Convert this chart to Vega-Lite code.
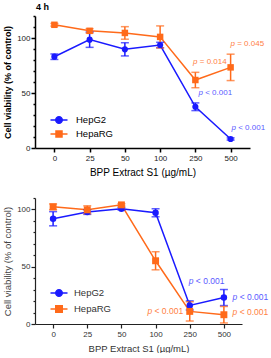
{
  "$schema": "https://vega.github.io/schema/vega-lite/v6.json",
  "background": "white",
  "padding": {"left": 2, "top": 3, "right": 0, "bottom": 0},
  "config": {
    "view": {"stroke": null},
    "font": "Liberation Sans",
    "axis": {"grid": false, "domainColor": "#000", "tickColor": "#000", "labelColor": "#222", "titleColor": "#000"}
  },
  "datasets": {
    "top": [
      {"cell": "HepG2", "dose": "0", "mean": 83, "err": 2.5, "ptext": ""},
      {"cell": "HepG2", "dose": "25", "mean": 98.5, "err": 7, "ptext": ""},
      {"cell": "HepG2", "dose": "50", "mean": 89.7, "err": 6, "ptext": ""},
      {"cell": "HepG2", "dose": "100", "mean": 93.6, "err": 2.5, "ptext": ""},
      {"cell": "HepG2", "dose": "250", "mean": 37.5, "err": 3.5, "ptext": "< 0.001"},
      {"cell": "HepG2", "dose": "500", "mean": 8.2, "err": 1, "ptext": "< 0.001"},
      {"cell": "HepaRG", "dose": "0", "mean": 112, "err": 1.2, "ptext": ""},
      {"cell": "HepaRG", "dose": "25", "mean": 106.5, "err": 2, "ptext": ""},
      {"cell": "HepaRG", "dose": "50", "mean": 104.6, "err": 5.7, "ptext": ""},
      {"cell": "HepaRG", "dose": "100", "mean": 101, "err": 10, "ptext": ""},
      {"cell": "HepaRG", "dose": "250", "mean": 61.8, "err": 7, "ptext": "= 0.014"},
      {"cell": "HepaRG", "dose": "500", "mean": 73.3, "err": 12, "ptext": "= 0.045"}
    ],
    "bottom": [
      {"cell": "HepG2", "dose": "0", "mean": 91.9, "err": 6.2, "ptext": ""},
      {"cell": "HepG2", "dose": "25", "mean": 97.7, "err": 2, "ptext": ""},
      {"cell": "HepG2", "dose": "50", "mean": 100.6, "err": 1, "ptext": ""},
      {"cell": "HepG2", "dose": "100", "mean": 97.1, "err": 3.5, "ptext": ""},
      {"cell": "HepG2", "dose": "250", "mean": 16.2, "err": 4, "ptext": "< 0.001"},
      {"cell": "HepG2", "dose": "500", "mean": 23.1, "err": 7, "ptext": "< 0.001"},
      {"cell": "HepaRG", "dose": "0", "mean": 102.3, "err": 2.5, "ptext": ""},
      {"cell": "HepaRG", "dose": "25", "mean": 99.7, "err": 3.5, "ptext": ""},
      {"cell": "HepaRG", "dose": "50", "mean": 104, "err": 1, "ptext": ""},
      {"cell": "HepaRG", "dose": "100", "mean": 55.2, "err": 7.9, "ptext": ""},
      {"cell": "HepaRG", "dose": "250", "mean": 11, "err": 8.4, "ptext": "< 0.001"},
      {"cell": "HepaRG", "dose": "500", "mean": 8.1, "err": 7.2, "ptext": "< 0.001"}
    ]
  },
  "spacing": 20,
  "resolve": {
    "scale": {"x": "independent", "y": "independent", "color": "independent"},
    "legend": {"color": "independent"}
  },
  "vconcat": [
    {
      "width": 215,
      "height": 132,
      "title": {"text": "4 h", "anchor": "start", "frame": "group", "fontSize": 9, "fontWeight": "bold", "offset": 3, "dx": 1, "color": "#000"},
      "data": {"name": "top"},
      "encoding": {
        "x": {
          "field": "dose", "type": "ordinal", "sort": ["0", "25", "50", "100", "250", "500"],
          "scale": {"type": "point", "padding": 0.55},
          "axis": {"title": "BPP Extract S1 (µg/mL)", "labelAngle": 0, "labelFontSize": 8, "labelPadding": 2, "tickSize": 4, "tickWidth": 1.5, "domainWidth": 1.5, "titleFontSize": 10, "titleFontWeight": "normal", "titlePadding": 5}
        },
        "y": {
          "field": "mean", "type": "quantitative",
          "scale": {"domain": [0, 120], "nice": false},
          "axis": {
            "title": "Cell viability (% of control)",
            "values": [0, 10, 20, 30, 40, 50, 60, 70, 80, 90, 100, 110, 120],
            "labelExpr": "datum.value % 50 === 0 ? datum.label : ''",
            "tickSize": {"condition": {"test": "datum.value % 50 === 0", "value": 4}, "value": 2},
            "labelFontSize": 8, "labelPadding": 1, "titleFontSize": 9, "titleFontWeight": "bold", "titlePadding": 4,
            "domainWidth": 1.5, "tickWidth": 1.5
          }
        },
        "color": {
          "field": "cell", "type": "nominal",
          "scale": {"domain": ["HepG2", "HepaRG"], "range": ["#1a1aff", "#ff6a1a"]},
          "legend": {
            "title": null, "orient": "none", "legendX": 18, "legendY": 98,
            "labelFontSize": 9.5, "labelColor": "#000", "labelOffset": 11, "symbolSize": 100, "rowPadding": 1,
            "encode": {"symbols": {"update": {
              "shape": {"signal": "datum.value === 'HepG2' ? 'M-1.7,0H1.7M0.65,0A0.65,0.65,0,1,1,-0.65,0A0.65,0.65,0,1,1,0.65,0Z' : 'M-1.7,0H1.7M-0.6,-0.6H0.6V0.6H-0.6Z'"},
              "stroke": {"signal": "datum.value === 'HepG2' ? '#1a1aff' : '#ff6a1a'"},
              "fill": {"signal": "datum.value === 'HepG2' ? '#1a1aff' : '#ff6a1a'"},
              "strokeWidth": {"value": 1.5},
              "opacity": {"value": 1}
            }}}
          }
        }
      },
      "layer": [
        {"mark": {"type": "line", "strokeWidth": 1.5}},
        {"mark": {"type": "errorbar", "ticks": {"size": 8}, "thickness": 1.5}, "encoding": {"yError": {"field": "err"}}},
        {"transform": [{"filter": "datum.cell === 'HepG2'"}], "mark": {"type": "point", "shape": "circle", "filled": true, "opacity": 1, "size": 38}},
        {"transform": [{"filter": "datum.cell === 'HepaRG'"}], "mark": {"type": "point", "shape": "square", "filled": true, "opacity": 1, "size": 42}},
        {"transform": [{"filter": "datum.cell === 'HepaRG' && datum.dose === '500'"}], "layer": [
          {"mark": {"type": "text", "text": "p", "fontStyle": "italic", "align": "right", "baseline": "middle", "fontSize": 8, "dx": 4.4, "dy": -23.4, "opacity": 0.85}},
          {"mark": {"type": "text", "align": "left", "baseline": "middle", "fontSize": 8, "dx": 6.6, "dy": -23.4, "opacity": 0.85}, "encoding": {"text": {"field": "ptext"}}}
        ]},
        {"transform": [{"filter": "datum.cell === 'HepaRG' && datum.dose === '250'"}], "layer": [
          {"mark": {"type": "text", "text": "p", "fontStyle": "italic", "align": "right", "baseline": "middle", "fontSize": 8, "dx": 2.2, "dy": -18, "opacity": 0.85}},
          {"mark": {"type": "text", "align": "left", "baseline": "middle", "fontSize": 8, "dx": 4.4, "dy": -18, "opacity": 0.85}, "encoding": {"text": {"field": "ptext"}}}
        ]},
        {"transform": [{"filter": "datum.cell === 'HepG2' && datum.dose === '250'"}], "layer": [
          {"mark": {"type": "text", "text": "p", "fontStyle": "italic", "align": "right", "baseline": "middle", "fontSize": 8, "dx": 7.6, "dy": -13.8, "opacity": 0.75}},
          {"mark": {"type": "text", "align": "left", "baseline": "middle", "fontSize": 8, "dx": 9.8, "dy": -13.8, "opacity": 0.75}, "encoding": {"text": {"field": "ptext"}}}
        ]},
        {"transform": [{"filter": "datum.cell === 'HepG2' && datum.dose === '500'"}], "layer": [
          {"mark": {"type": "text", "text": "p", "fontStyle": "italic", "align": "right", "baseline": "middle", "fontSize": 8, "dx": 5.4, "dy": -11, "opacity": 0.75}},
          {"mark": {"type": "text", "align": "left", "baseline": "middle", "fontSize": 8, "dx": 7.6, "dy": -11, "opacity": 0.75}, "encoding": {"text": {"field": "ptext"}}}
        ]}
      ]
    },
    {
      "width": 207,
      "height": 126,
      "data": {"name": "bottom"},
      "encoding": {
        "x": {
          "field": "dose", "type": "ordinal", "sort": ["0", "25", "50", "100", "250", "500"],
          "scale": {"type": "point", "padding": 0.53},
          "axis": {"title": "BPP Extract S1 (µg/mL)", "labelAngle": 0, "labelFontSize": 8, "labelPadding": 2, "labelColor": "#333", "tickSize": 4, "tickWidth": 1.2, "domainWidth": 1.2, "domainColor": "#222", "tickColor": "#222", "titleFontSize": 9.5, "titleFontWeight": "normal", "titleColor": "#333", "titlePadding": 5}
        },
        "y": {
          "field": "mean", "type": "quantitative",
          "scale": {"domain": [0, 110], "nice": false},
          "axis": {
            "title": "Cell viability (% of control)",
            "values": [0, 10, 20, 30, 40, 50, 60, 70, 80, 90, 100, 110],
            "labelExpr": "datum.value % 50 === 0 ? datum.label : ''",
            "tickSize": {"condition": {"test": "datum.value % 50 === 0", "value": 4}, "value": 2},
            "labelFontSize": 8, "labelPadding": 1, "labelColor": "#333", "titleFontSize": 9.5, "titleFontWeight": "normal", "titleColor": "#444", "titlePadding": 4,
            "domainWidth": 1.2, "tickWidth": 1.2, "domainColor": "#222", "tickColor": "#222"
          }
        },
        "color": {
          "field": "cell", "type": "nominal",
          "scale": {"domain": ["HepG2", "HepaRG"], "range": ["#1a1aff", "#ff6a1a"]},
          "legend": {
            "title": null, "orient": "none", "legendX": 18, "legendY": 89,
            "labelFontSize": 9.5, "labelColor": "#333", "labelOffset": 9, "symbolSize": 100, "rowPadding": 2,
            "encode": {"symbols": {"update": {
              "shape": {"signal": "datum.value === 'HepG2' ? 'M-1.7,0H1.7M0.65,0A0.65,0.65,0,1,1,-0.65,0A0.65,0.65,0,1,1,0.65,0Z' : 'M-1.7,0H1.7M-0.65,-0.65H0.65V0.65H-0.65Z'"},
              "stroke": {"signal": "datum.value === 'HepG2' ? '#1a1aff' : '#ff6a1a'"},
              "fill": {"signal": "datum.value === 'HepG2' ? '#1a1aff' : '#ff6a1a'"},
              "strokeWidth": {"value": 1.5},
              "opacity": {"value": 1}
            }}}
          }
        }
      },
      "layer": [
        {"mark": {"type": "line", "strokeWidth": 1.5}},
        {"mark": {"type": "errorbar", "ticks": {"size": 8}, "thickness": 1.5}, "encoding": {"yError": {"field": "err"}}},
        {"transform": [{"filter": "datum.cell === 'HepG2'"}], "mark": {"type": "point", "shape": "circle", "filled": true, "opacity": 1, "size": 42}},
        {"transform": [{"filter": "datum.cell === 'HepaRG'"}], "mark": {"type": "point", "shape": "square", "filled": true, "opacity": 1, "size": 48}},
        {"transform": [{"filter": "datum.cell === 'HepG2' && datum.dose === '250'"}], "layer": [
          {"mark": {"type": "text", "text": "p", "fontStyle": "italic", "align": "right", "baseline": "middle", "fontSize": 8.5, "dx": 3.7, "dy": -24, "opacity": 0.75}},
          {"mark": {"type": "text", "align": "left", "baseline": "middle", "fontSize": 8.5, "dx": 6.1, "dy": -24, "opacity": 0.75}, "encoding": {"text": {"field": "ptext"}}}
        ]},
        {"transform": [{"filter": "datum.cell === 'HepG2' && datum.dose === '500'"}], "layer": [
          {"mark": {"type": "text", "text": "p", "fontStyle": "italic", "align": "right", "baseline": "middle", "fontSize": 8.5, "dx": 13.4, "dy": -1, "opacity": 0.75}},
          {"mark": {"type": "text", "align": "left", "baseline": "middle", "fontSize": 8.5, "dx": 15.8, "dy": -1, "opacity": 0.75}, "encoding": {"text": {"field": "ptext"}}}
        ]},
        {"transform": [{"filter": "datum.cell === 'HepaRG' && datum.dose === '500'"}], "layer": [
          {"mark": {"type": "text", "text": "p", "fontStyle": "italic", "align": "right", "baseline": "middle", "fontSize": 8.5, "dx": 13.4, "dy": -2.7, "opacity": 0.85}},
          {"mark": {"type": "text", "align": "left", "baseline": "middle", "fontSize": 8.5, "dx": 15.8, "dy": -2.7, "opacity": 0.85}, "encoding": {"text": {"field": "ptext"}}}
        ]},
        {"transform": [{"filter": "datum.cell === 'HepaRG' && datum.dose === '250'"}], "layer": [
          {"mark": {"type": "text", "text": "p", "fontStyle": "italic", "align": "right", "baseline": "middle", "fontSize": 8.5, "dx": -37.6, "dy": 0, "opacity": 0.85}},
          {"mark": {"type": "text", "align": "left", "baseline": "middle", "fontSize": 8.5, "dx": -35.2, "dy": 0, "opacity": 0.85}, "encoding": {"text": {"field": "ptext"}}}
        ]}
      ]
    }
  ]
}
